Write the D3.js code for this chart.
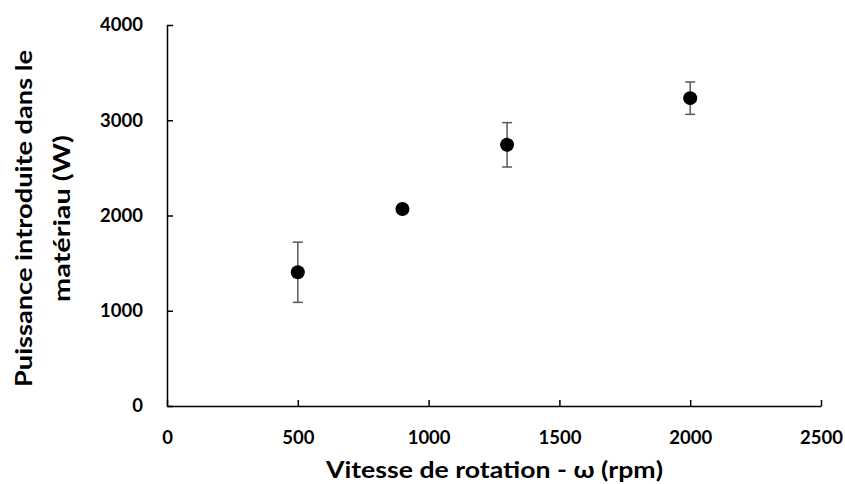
<!DOCTYPE html>
<html><head><meta charset="utf-8">
<script src="https://cdn.jsdelivr.net/npm/d3@7"></script>
<style>body{margin:0;background:#fff}</style>
</head><body>
<svg id="c" width="845" height="484"></svg>
<script>
const speeds = [500, 900, 1300, 2000];
const power = [1404, 2068, 2742, 3232];
const errors = [316, 20, 233, 170];
const xTicks = [0, 500, 1000, 1500, 2000, 2500];
const yTicks = [0, 1000, 2000, 3000, 4000];
const yTitleLines = ["Puissance introduite dans le", "matériau  (W)"];

const svg = d3.select("#c");
const font = "Lato, 'Open Sans', sans-serif";
const x = d3.scaleLinear().domain([0, 2500]).range([167, 821]);
const y = d3.scaleLinear().domain([0, 4000]).range([406, 25]);
const fmt = d3.format("d");

const xa = svg.append("g").attr("transform", "translate(0,406)")
  .call(d3.axisBottom(x).tickValues(xTicks).tickFormat(fmt).tickSizeInner(-6).tickSizeOuter(0).tickPadding(25));
const ya = svg.append("g").attr("transform", "translate(167,0)")
  .call(d3.axisLeft(y).tickValues(yTicks).tickFormat(fmt).tickSizeInner(-6).tickSizeOuter(0).tickPadding(24));
[xa, ya].forEach(a => {
  a.select(".domain").attr("stroke", "#000").attr("stroke-width", 1.5);
  a.selectAll(".tick line").attr("stroke", "#000").attr("stroke-width", 1.5);
  a.selectAll(".tick text").attr("fill", "#000").attr("font-family", font)
    .attr("font-weight", "bold").attr("font-size", 18.5);
});
xa.selectAll(".tick text").attr("dy", "0.71em");

const pts = speeds.map((s, i) => ({s, p: power[i], e: errors[i]}));
const eb = svg.append("g").attr("stroke", "#595959").attr("stroke-width", 1.5);
pts.forEach(d => {
  eb.append("line").attr("x1", x(d.s)).attr("x2", x(d.s)).attr("y1", y(d.p - d.e)).attr("y2", y(d.p + d.e));
  [d.p - d.e, d.p + d.e].forEach(v => eb.append("line")
    .attr("x1", x(d.s) - 5).attr("x2", x(d.s) + 5).attr("y1", y(v)).attr("y2", y(v)));
});
svg.append("g").selectAll("circle").data(pts).join("circle")
  .attr("cx", d => x(d.s)).attr("cy", d => y(d.p)).attr("r", 7).attr("fill", "#000");

svg.append("text").attr("x", 494.5).attr("y", 478).attr("text-anchor", "middle")
  .attr("font-family", font).attr("font-weight", "bold").attr("font-size", 22).attr("fill", "#000")
  .attr("textLength", 337).attr("lengthAdjust", "spacingAndGlyphs")
  .text("Vitesse de rotation - ω (rpm)");
const lens = [337, 167], bases = [32, 70];
yTitleLines.forEach((t, i) => {
  const w = lens[i];
  svg.append("text").attr("transform", `translate(${bases[i]},${218.5 + w / 2}) rotate(-90)`)
    .attr("x", 0).attr("y", 0).attr("font-family", font).attr("font-weight", "bold")
    .attr("font-size", 22).attr("fill", "#000")
    .attr("textLength", w).attr("lengthAdjust", "spacingAndGlyphs").text(t);
});
</script>
</body></html>
